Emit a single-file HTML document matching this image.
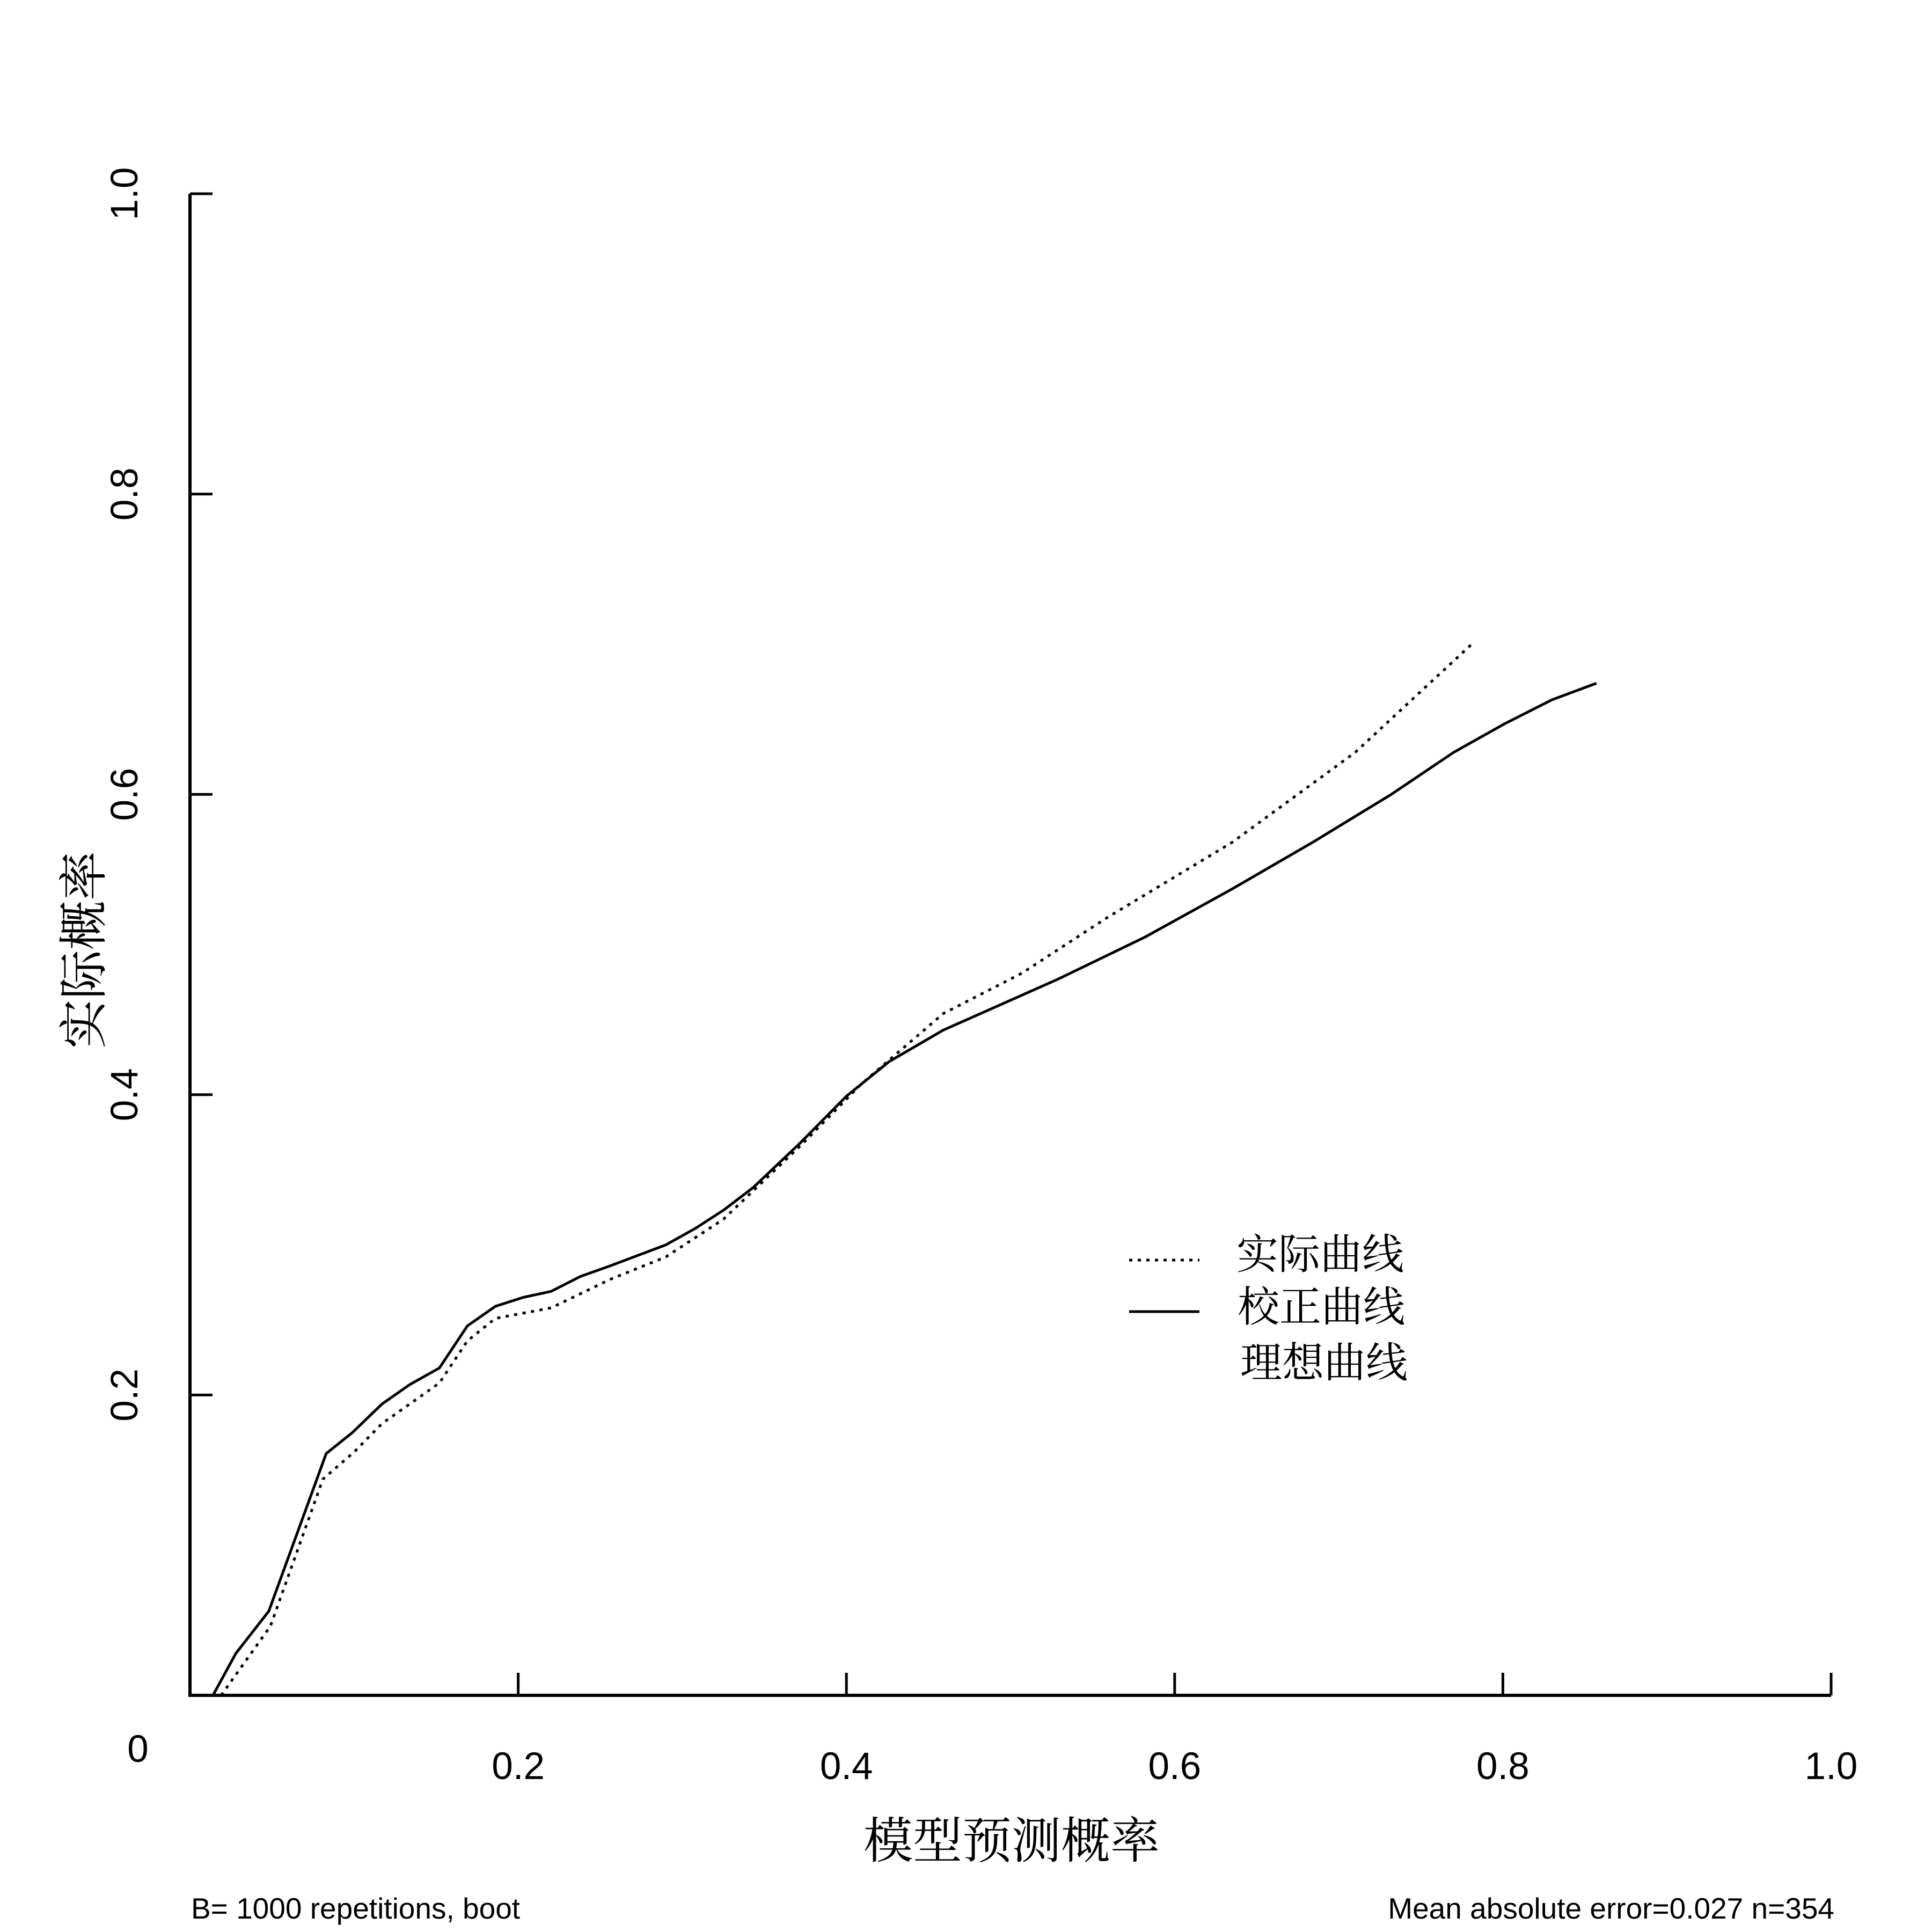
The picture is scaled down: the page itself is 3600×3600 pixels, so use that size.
<!DOCTYPE html>
<html><head><meta charset="utf-8"><style>
html,body{margin:0;padding:0;background:#fff;}
svg{display:block;}
text{font-family:"Liberation Sans","Noto Sans CJK SC",sans-serif;fill:#000;}
.cjk{font-family:"Noto Serif CJK SC","Liberation Serif",serif;}
</style></head><body>
<svg id="chart" width="3600" height="3600" viewBox="0 0 3600 3600" xmlns="http://www.w3.org/2000/svg">
<g id="axes"></g>
<g id="series"></g>
<g>
<line x1="2104" y1="2348" x2="2235" y2="2348" stroke="#000" stroke-width="5" stroke-dasharray="6,10"/>
<text class="cjk" x="2304" y="2364" font-size="78">实际曲线</text>
<line x1="2104" y1="2444" x2="2235" y2="2444" stroke="#000" stroke-width="5"/>
<text class="cjk" x="2306" y="2462" font-size="78">校正曲线</text>
<text class="cjk" x="2311" y="2566" font-size="78">理想曲线</text>
</g>
<text class="cjk" x="1885" y="3462" font-size="92" text-anchor="middle">模型预测概率</text>
<text class="cjk" transform="translate(188,1770) rotate(-90)" font-size="92" text-anchor="middle">实际概率</text>
<text x="356" y="3575" font-size="55">B= 1000 repetitions, boot</text>
<text x="3418" y="3575" font-size="55" text-anchor="end">Mean absolute error=0.027 n=354</text>
</svg>
<script>
const xTicks = [0.2, 0.4, 0.6, 0.8, 1.0];
const xTickLabels = ["0.2", "0.4", "0.6", "0.8", "1.0"];
const yTicks = [0.2, 0.4, 0.6, 0.8, 1.0];
const yTickLabels = ["0.2", "0.4", "0.6", "0.8", "1.0"];
const correctedX = [0.014,0.028,0.048,0.083,0.099,0.117,0.134,0.152,0.169,0.186,0.203,0.220,0.238,0.256,0.273,0.290,0.308,0.325,0.343,0.372,0.400,0.426,0.459,0.492,0.529,0.582,0.635,0.684,0.732,0.770,0.801,0.830,0.857];
const correctedY = [0,0.028,0.056,0.161,0.175,0.194,0.207,0.218,0.246,0.259,0.265,0.269,0.279,0.286,0.293,0.300,0.311,0.323,0.338,0.368,0.399,0.422,0.443,0.459,0.477,0.505,0.537,0.568,0.600,0.628,0.647,0.663,0.674];
const apparentX = [0.019,0.049,0.081,0.100,0.117,0.152,0.169,0.186,0.220,0.256,0.290,0.325,0.372,0.409,0.459,0.507,0.559,0.635,0.710,0.781];
const apparentY = [0,0.046,0.144,0.162,0.181,0.208,0.236,0.251,0.258,0.277,0.292,0.317,0.366,0.407,0.454,0.481,0.518,0.568,0.628,0.700];

const NS = "http://www.w3.org/2000/svg";
const X0 = 354, X1 = 3412, Y0 = 3159, Y1 = 361;
function sx(v){ return X0 + v*(X1-X0); }
function sy(v){ return Y0 - v*(Y0-Y1); }
function mk(tag, attrs, parent){
  const e = document.createElementNS(NS, tag);
  for (const k in attrs) e.setAttribute(k, attrs[k]);
  parent.appendChild(e); return e;
}
const axes = document.getElementById('axes');
const ax = mk('polyline', {points: `${X0},${Y1} ${X0},${Y0} ${X1},${Y0}`, fill:'none', stroke:'#000', 'stroke-width':6}, axes);


xTicks.forEach((t,i)=>{
  const l = mk('line', {x1:sx(t), x2:sx(t), y1:Y0, y2:Y0-42, stroke:'#000', 'stroke-width':5}, axes);
  
  
  const tx = mk('text', {x:sx(t), y:3315, 'font-size':71, 'text-anchor':'middle'}, axes);
  tx.textContent = xTickLabels[i];
  
  
});
yTicks.forEach((t,i)=>{
  const l = mk('line', {x1:X0, x2:X0+42, y1:sy(t), y2:sy(t), stroke:'#000', 'stroke-width':5}, axes);
  
  
  const tx = mk('text', {transform:`translate(256,${sy(t)}) rotate(-90)`, 'font-size':71, 'text-anchor':'middle'}, axes);
  tx.textContent = yTickLabels[i];
  
  
});
const z = mk('text', {x:257, y:3283, 'font-size':71, 'text-anchor':'middle'}, axes);
z.textContent = '0';



const series = document.getElementById('series');
function pts(xs, ys){ return xs.map((x,i)=>`${sx(x).toFixed(1)},${sy(ys[i]).toFixed(1)}`).join(' '); }
const ap = mk('polyline', {points: pts(apparentX, apparentY), fill:'none', stroke:'#000', 'stroke-width':5, 'stroke-dasharray':'6,10'}, series);


const co = mk('polyline', {points: pts(correctedX, correctedY), fill:'none', stroke:'#000', 'stroke-width':5, 'stroke-linejoin':'round'}, series);


</script>
</body></html>
